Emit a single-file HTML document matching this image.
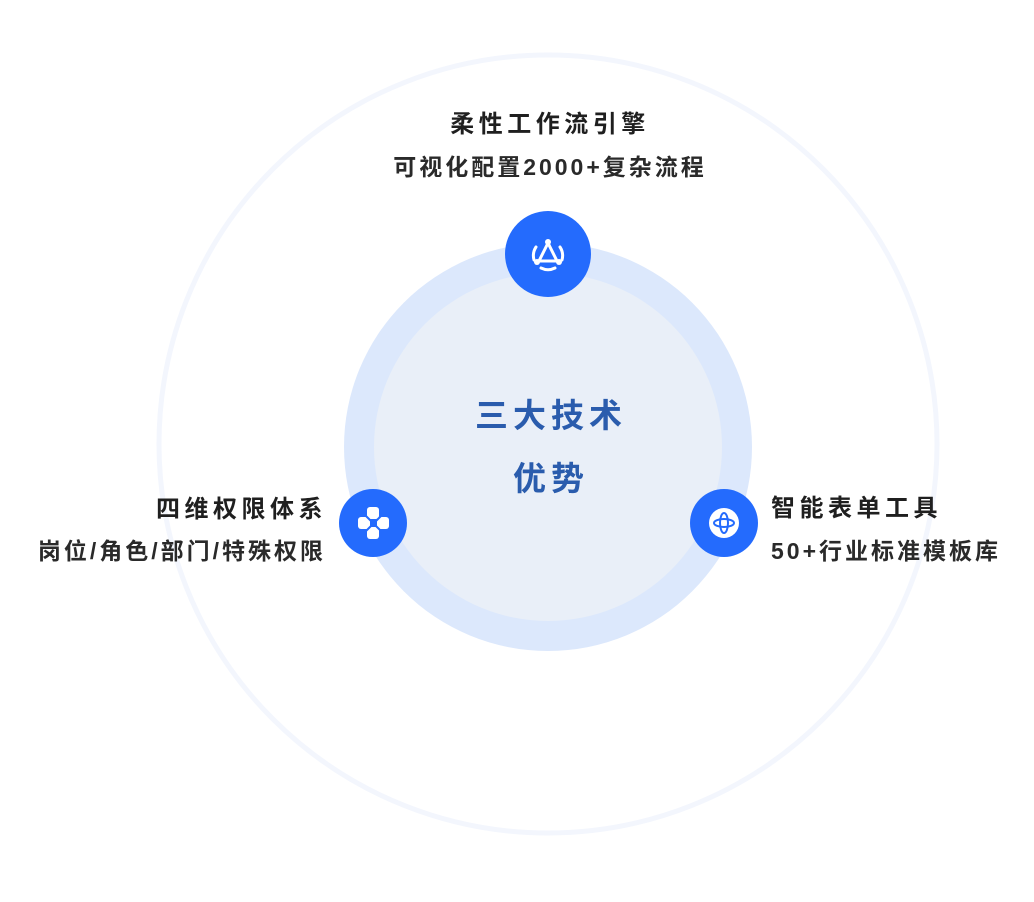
<!DOCTYPE html>
<html><head><meta charset="utf-8"><style>
body{margin:0;width:1034px;height:902px;background:#fff;position:relative;overflow:hidden;font-family:"Liberation Sans","Noto Sans CJK SC",sans-serif;}
.t{position:absolute;white-space:nowrap;color:#1f1f1f;}
.h{font-size:24px;font-weight:bold;letter-spacing:4.5px;}
.s{font-size:23px;font-weight:bold;color:#2a2a2a;letter-spacing:3px;}
</style></head><body>
<svg width="1034" height="902" style="position:absolute;left:0;top:0">
<circle cx="548" cy="444" r="389" fill="none" stroke="#f3f6fd" stroke-width="5"/>
<circle cx="548" cy="447" r="204" fill="#dce8fc"/>
<circle cx="548" cy="447" r="174" fill="#e9eff8"/>
<circle cx="548" cy="254" r="43" fill="#246bfd"/>
<circle cx="373" cy="523" r="34" fill="#246bfd"/>
<circle cx="724" cy="523" r="34" fill="#246bfd"/>
<g stroke="#fff" stroke-width="3" fill="none" stroke-linecap="round">
<path d="M548 243 L539 261 L557 261 Z"/>
<path d="M536 247 A16 16 0 0 0 534 260"/>
<path d="M560 247 A16 16 0 0 1 562 260"/>
<path d="M541 268 A16 16 0 0 0 555 268"/>
</g>
<circle cx="548" cy="242" r="3" fill="#fff"/>
<circle cx="537" cy="262" r="3" fill="#fff"/>
<circle cx="559" cy="262" r="3" fill="#fff"/>
<g fill="#fff">
<rect x="358" y="517" width="12" height="12" rx="3"/>
<rect x="377" y="517" width="12" height="12" rx="3"/>
<rect x="367" y="507" width="12" height="12" rx="3"/>
<rect x="367" y="527" width="12" height="12" rx="3"/>
</g>
<path d="M366 516 L381 531 M381 516 L366 531" stroke="#246bfd" stroke-width="2"/>
<circle cx="724" cy="523" r="15" fill="#fff"/>
<g stroke="#246bfd" stroke-width="2" fill="none">
<ellipse cx="724" cy="523" rx="4" ry="10"/>
<ellipse cx="724" cy="523" rx="10" ry="4"/>
</g>
<text x="551" y="427" text-anchor="middle" font-family="Liberation Sans,Noto Sans CJK SC,sans-serif" font-size="33" font-weight="bold" fill="#2a5cad" letter-spacing="5">三大技术</text>
<text x="551" y="490" text-anchor="middle" font-family="Liberation Sans,Noto Sans CJK SC,sans-serif" font-size="33" font-weight="bold" fill="#2a5cad" letter-spacing="5">优势</text>
</svg>
<div class="t h" style="left:0;width:1100px;text-align:center;top:104px;">柔性工作流引擎</div>
<div class="t s" style="left:0;width:1100px;text-align:center;top:148px;">可视化配置2000+复杂流程</div>
<div class="t h" style="right:707px;top:489px;">四维权限体系</div>
<div class="t s" style="right:708px;top:532px;">岗位/角色/部门/特殊权限</div>
<div class="t h" style="left:771px;top:488px;">智能表单工具</div>
<div class="t s" style="left:771px;top:532px;">50+行业标准模板库</div>
</body></html>
